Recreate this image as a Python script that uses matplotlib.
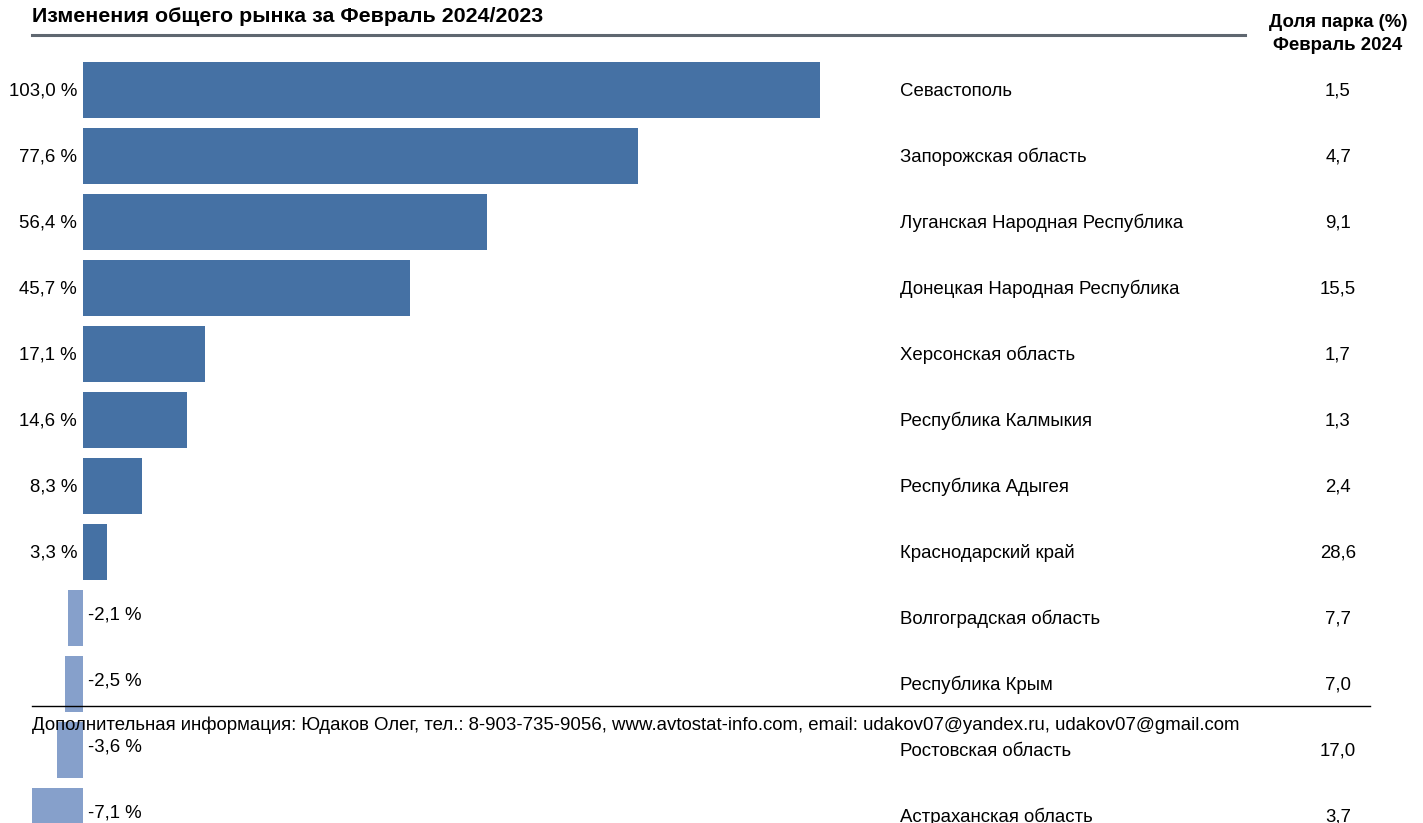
import matplotlib.pyplot as plt
from matplotlib.transforms import blended_transform_factory

plt.rcParams['font.family'] = ['Liberation Sans', 'DejaVu Sans']

regions = ['Севастополь', 'Запорожская область', 'Луганская Народная Республика',
           'Донецкая Народная Республика', 'Херсонская область', 'Республика Калмыкия',
           'Республика Адыгея', 'Краснодарский край', 'Волгоградская область',
           'Республика Крым', 'Ростовская область', 'Астраханская область']
change = [103.0, 77.6, 56.4, 45.7, 17.1, 14.6, 8.3, 3.3, -2.1, -2.5, -3.6, -7.1]
share = [1.5, 4.7, 9.1, 15.5, 1.7, 1.3, 2.4, 28.6, 7.7, 7.0, 17.0, 3.7]

title = 'Изменения общего рынка за Февраль 2024/2023'
share_header = 'Доля парка (%)\nФевраль 2024'
footer = ('Дополнительная информация: Юдаков Олег, тел.: 8-903-735-9056, '
          'www.avtostat-info.com, email: udakov07@yandex.ru, udakov07@gmail.com')

W, H = 1423, 823
fig = plt.figure(figsize=(W / 100, H / 100), dpi=100)
ax = fig.add_axes([0, 0, 1, 1])
ax.axis('off')

# pixel layout: zero at x=83, 103 % at x=820; rows every 66 px from y=90
px_per_pct = (820 - 83) / 103.0
ax.set_xlim(-83 / px_per_pct, (W - 83) / px_per_pct)
ax.set_ylim((H - 90) / 66, -90 / 66)

pos_color = '#4571a4'
neg_color = '#86a0cb'
rows = list(range(len(change)))
colors = [pos_color if v >= 0 else neg_color for v in change]
ax.barh(rows, change, height=56 / 66, color=colors, zorder=1)

fs = 13.4
for r, v in zip(rows, change):
    lbl = f'{v:.1f} %'.replace('.', ',')
    if v >= 0:
        ax.annotate(lbl, (0, r), xytext=(-6, -1), textcoords='offset pixels',
                    ha='right', va='center', fontsize=fs)
    else:
        ax.annotate(lbl, (0, r), xytext=(5, 3), textcoords='offset pixels',
                    ha='left', va='center', fontsize=fs)

tr = blended_transform_factory(ax.transAxes, ax.transData)
for r, name, s in zip(rows, regions, share):
    ax.annotate(name, (900 / W, r), xycoords=tr, xytext=(0, -1),
                textcoords='offset pixels', ha='left', va='center', fontsize=fs)
    ax.annotate(f'{s:.1f}'.replace('.', ','), (1338 / W, r), xycoords=tr,
                xytext=(0, -1), textcoords='offset pixels',
                ha='center', va='center', fontsize=fs)

# title and header
fig.text(32 / W, 1 - 16 / H, title, ha='left', va='center',
         fontsize=15.4, fontweight='bold')
fig.add_artist(plt.Line2D([32 / W, 1245 / W], [1 - 35 / H, 1 - 35 / H],
                          color='#5f6770', lw=2.2))
fig.text(1338 / W, 1 - 34 / H, share_header, ha='center', va='center',
         fontsize=13.4, fontweight='bold', linespacing=1.5)

# footer
fig.add_artist(plt.Line2D([32 / W, 1370 / W], [1 - 705.5 / H, 1 - 705.5 / H],
                          color='black', lw=1.0, zorder=5))
fig.text(32 / W, 1 - 725 / H, footer, ha='left', va='center', fontsize=13.4, zorder=6)

fig.savefig('out.png', dpi=100, facecolor='white')
